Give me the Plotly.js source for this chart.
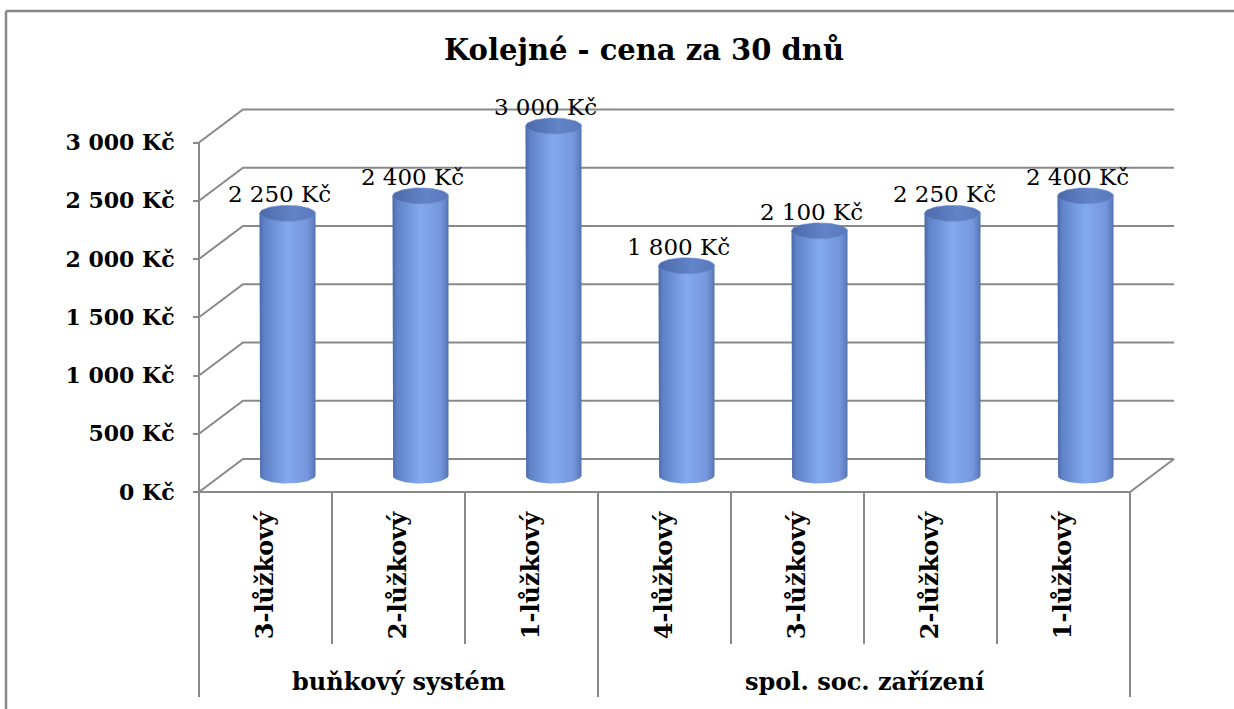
<!DOCTYPE html>
<html>
<head>
<meta charset="utf-8">
<script src="https://cdn.plot.ly/plotly-3.0.1.min.js"></script>
<style>html,body{margin:0;padding:0;background:#fff;}#chart{width:1234px;height:709px;}</style>
</head>
<body>
<div id="chart"></div>
<script>
// ---- data ----
const categories = ['3-lůžkový', '2-lůžkový', '1-lůžkový', '4-lůžkový', '3-lůžkový', '2-lůžkový', '1-lůžkový'];
const groups = ['buňkový systém', 'spol. soc. zařízení'];
const groupSizes = [3, 4];
const prices = [2250, 2400, 3000, 1800, 2100, 2250, 2400];
const yTicks = [0, 500, 1000, 1500, 2000, 2500, 3000];
const chartTitle = 'Kolejné - cena za 30 dnů';

// ---- geometry / style ----
const W = 1234, H = 709;
const X0 = 199, Y0 = 492;      // front-plane origin (px)
const CAT = 133;               // px per category
const S = 0.1165;              // px per Kč
const DX = 44, DY = 33;        // 3D depth offset (px)
const dxU = DX / CAT, dyU = DY / S;
const rxU = 28 / CAT, ryU = 8 / S;
const n = categories.length;
const xL = -0.5, xR = n - 0.5;
const SERIF = '"DejaVu Serif", "Liberation Serif", serif';
const GRID = '#898989';

const fmt = v => String(v).replace(/\B(?=(\d{3})+(?!\d))/g, ' ') + ' Kč';
const pxY = py => (Y0 - py) / S;   // page px -> y value

const traces = [];
const bodyScale = [[0, '#4a68a6'], [0.08, '#5f82c8'], [0.5, '#83a9ee'], [0.85, '#7597de'], [0.95, '#6382c4'], [1, '#5170ae']];
const topScale = [[0, '#4c6aab'], [0.6, '#6284c8'], [1, '#5878bb']];

prices.forEach((v, i) => {
  const cx = i + dxU / 2;
  const yb = dyU / 2;
  const yt = v + dyU / 2;
  const N = 60;
  // body
  const bx = [cx - rxU, cx - rxU], by = [yt, yb];
  for (let k = 0; k <= N; k++) {
    const a = Math.PI + Math.PI * k / N;
    bx.push(cx + rxU * Math.cos(a));
    by.push(yb + ryU * Math.sin(a));
  }
  bx.push(cx + rxU, cx - rxU); by.push(yt, yt);
  traces.push({
    x: bx, y: by, type: 'scatter', mode: 'lines', fill: 'toself',
    line: {width: 0, color: '#5a7abc'},
    fillgradient: {type: 'horizontal', colorscale: bodyScale},
    hoverinfo: 'skip', showlegend: false
  });
  // top ellipse
  const tx = [], ty = [];
  for (let k = 0; k <= N; k++) {
    const a = 2 * Math.PI * k / N;
    tx.push(cx + rxU * Math.cos(a));
    ty.push(yt + ryU * Math.sin(a));
  }
  traces.push({
    x: tx, y: ty, type: 'scatter', mode: 'lines', fill: 'toself',
    line: {width: 0.6, color: '#6f90d2'},
    fillgradient: {type: 'horizontal', colorscale: topScale},
    hoverinfo: 'skip', showlegend: false
  });
});

// data labels
traces.push({
  x: prices.map((v, i) => i + dxU / 2 - 8 / CAT),
  y: prices.map(v => v + dyU / 2 + 17 / S),
  text: prices.map(fmt),
  type: 'scatter', mode: 'text', textposition: 'middle center',
  textfont: {family: SERIF, size: 23, color: '#000'},
  cliponaxis: false, hoverinfo: 'skip', showlegend: false
});

// ---- shapes ----
const shapes = [];
const line = {color: GRID, width: 2};
yTicks.forEach(v => {
  shapes.push({type: 'path', layer: 'below', xref: 'x', yref: 'y',
    path: `M ${xL} ${v} L ${xL + dxU} ${v + dyU} L ${xR + dxU} ${v + dyU}`, line});
});
// floor front and right edge
shapes.push({type: 'path', layer: 'below', xref: 'x', yref: 'y',
  path: `M ${xL} 0 L ${xR} 0 L ${xR + dxU} ${dyU}`, line});
// front value axis line
shapes.push({type: 'line', layer: 'below', xref: 'x', yref: 'y',
  x0: xL, x1: xL, y0: 0, y1: yTicks[yTicks.length - 1], line});
// category dividers
const groupBounds = [xL];
groupSizes.reduce((acc, s) => { groupBounds.push(acc + s - 0.5); return acc + s; }, 0);
for (let i = 0; i <= n; i++) {
  const xb = i - 0.5;
  const isGroup = groupBounds.some(g => Math.abs(g - xb) < 1e-9);
  shapes.push({type: 'line', layer: 'below', xref: 'x', yref: 'y',
    x0: xb, x1: xb, y0: 0, y1: pxY(isGroup ? 697 : 644), line});
}
// outer chart border (left and top edges visible)
shapes.push({type: 'line', xref: 'paper', yref: 'paper',
  x0: 6 / W, x1: 6 / W, y0: -0.05, y1: (H - 11) / H, line: {color: '#878787', width: 2.5}});
shapes.push({type: 'line', xref: 'paper', yref: 'paper',
  x0: 6 / W, x1: 1.05, y0: (H - 11) / H, y1: (H - 11) / H, line: {color: '#878787', width: 2.5}});

// group labels
const annotations = [];
let start = 0;
groups.forEach((g, gi) => {
  const c = start + (groupSizes[gi] - 1) / 2;
  annotations.push({x: c, y: pxY(681), xref: 'x', yref: 'y', text: '<b>' + g + '</b>',
    showarrow: false, font: {family: SERIF, size: 24, color: '#000'}});
  start += groupSizes[gi];
});

const layout = {
  width: W, height: H,
  margin: {l: 0, r: 0, t: 0, b: 0},
  paper_bgcolor: '#fff', plot_bgcolor: 'rgba(0,0,0,0)',
  showlegend: false,
  title: {text: '<b>' + chartTitle + '</b>', font: {family: SERIF, size: 29, color: '#000'},
    x: 644 / W, xanchor: 'center', y: 1 - 50 / H, yanchor: 'middle', xref: 'paper', yref: 'paper'},
  xaxis: {
    domain: [0, 1], range: [xL - X0 / CAT, xL + (W - X0) / CAT],
    anchor: 'free', position: (H - Y0) / H,
    tickmode: 'array', tickvals: categories.map((c, i) => i), ticktext: categories.map(c => '<b>' + c + '</b>'),
    tickangle: -90, ticks: '', showgrid: false, zeroline: false, showline: false,
    ticklabelstandoff: 14,
    tickfont: {family: SERIF, size: 24, color: '#000'}, fixedrange: true
  },
  yaxis: {
    domain: [0, 1], range: [-(H - Y0) / S, Y0 / S],
    anchor: 'free', position: X0 / W,
    tickmode: 'array', tickvals: yTicks, ticktext: yTicks.map(v => '<b>' + fmt(v) + '</b>'),
    ticks: 'outside', ticklen: 6, tickwidth: 2, tickcolor: GRID,
    showgrid: false, zeroline: false, showline: false,
    ticklabelstandoff: 14,
    tickfont: {family: SERIF, size: 22, color: '#000'}, fixedrange: true
  },
  shapes, annotations
};

Plotly.newPlot('chart', traces, layout, {staticPlot: true, displayModeBar: false});
</script>
</body>
</html>
